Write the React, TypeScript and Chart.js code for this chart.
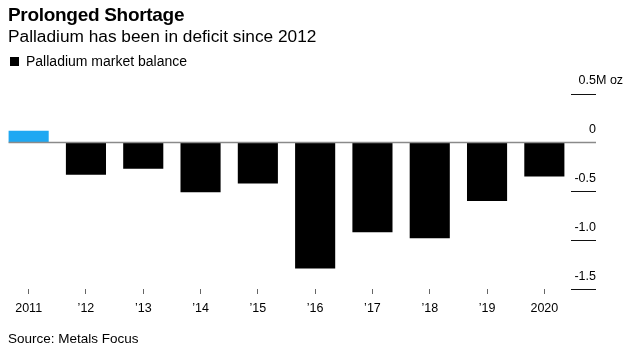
import React, { useEffect, useRef } from "react";
import { Chart, registerables } from "chart.js";

Chart.register(...registerables);

const categories = ["2011", "\u201912", "\u201913", "\u201914", "\u201915", "\u201916", "\u201917", "\u201918", "\u201919", "2020"];
const marketBalance = [0.12, -0.33, -0.27, -0.51, -0.42, -1.29, -0.92, -0.98, -0.6, -0.35];
const yTickValues = [0.5, 0, -0.5, -1.0, -1.5];
const yTickLabels = ["0.5", "0", "-0.5", "-1.0", "-1.5"];
const yUnit = "M oz";

const FONT = "'Liberation Sans', Arial, Helvetica, sans-serif";
const SURPLUS = "#1fa8f2";
const DEFICIT = "#000000";

const rightAxisPlugin = {
  id: "rightAxis",
  afterDatasetsDraw(chart: any) {
    const { ctx, chartArea, scales } = chart;
    const y = scales.y;
    const meta = chart.getDatasetMeta(0);
    const first = meta.data[0];
    const barLeft = first.x - first.width / 2;
    const tickStart = chartArea.right - 2;
    const tickEnd = chartArea.right + 23;
    ctx.save();
    ctx.font = `12.5px ${FONT}`;
    ctx.textBaseline = "alphabetic";
    yTickValues.forEach((v, i) => {
      const py = y.getPixelForValue(v);
      if (v !== 0) {
        ctx.strokeStyle = "#111";
        ctx.lineWidth = 1;
        ctx.beginPath();
        ctx.moveTo(tickStart, Math.round(py) + 0.5);
        ctx.lineTo(tickEnd, Math.round(py) + 0.5);
        ctx.stroke();
      }
      ctx.fillStyle = "#000";
      ctx.textAlign = "right";
      ctx.fillText(yTickLabels[i], tickEnd, py - 9.5);
      if (i === 0) {
        ctx.textAlign = "left";
        ctx.fillText(yUnit, tickEnd, py - 9.5);
      }
    });
    const y0 = y.getPixelForValue(0);
    ctx.strokeStyle = "#8a8a8a";
    ctx.lineWidth = 1.5;
    ctx.beginPath();
    ctx.moveTo(barLeft, y0);
    ctx.lineTo(tickEnd, y0);
    ctx.stroke();
    ctx.restore();
  },
};

export default function App() {
  const canvasRef = useRef<HTMLCanvasElement | null>(null);

  useEffect(() => {
    if (!canvasRef.current) return;
    const chart = new Chart(canvasRef.current, {
      type: "bar",
      data: {
        labels: categories,
        datasets: [
          {
            label: "Palladium market balance",
            data: marketBalance,
            backgroundColor: (c: any) => ((c.raw ?? 0) >= 0 ? SURPLUS : DEFICIT),
            borderWidth: 0,
            categoryPercentage: 1,
            barPercentage: 0.7,
          },
        ],
      },
      options: {
        animation: false,
        responsive: false,
        maintainAspectRatio: false,
        layout: { padding: { top: 93.5, left: 0, right: 68, bottom: 40 } },
        plugins: {
          legend: { display: false },
          tooltip: { enabled: false },
          title: { display: false },
        },
        scales: {
          x: {
            afterFit: (s: any) => {
              s.height = 30;
            },
            grid: {
              display: true,
              drawOnChartArea: false,
              drawTicks: true,
              tickLength: 5,
              color: "#666",
              offset: false,
            },
            border: { display: false },
            ticks: {
              color: "#000",
              font: { family: FONT, size: 12.5 },
              padding: 7,
              maxRotation: 0,
              autoSkip: false,
            },
          },
          y: { display: false, min: -1.5, max: 0.5 },
        },
      },
      plugins: [rightAxisPlugin],
    } as any);
    return () => chart.destroy();
  }, []);

  const base: React.CSSProperties = {
    position: "absolute",
    left: 8,
    margin: 0,
    whiteSpace: "nowrap",
    color: "#000",
    fontFamily: FONT,
  };

  return (
    <div style={{ position: "fixed", left: 0, top: 0, width: 641, height: 359, background: "#fff", overflow: "hidden" }}>
      <canvas ref={canvasRef} width={641} height={359} style={{ position: "absolute", left: 0, top: 0, width: 641, height: 359 }} />
      <div style={{ ...base, top: 5.2, fontSize: 19, lineHeight: "19px", fontWeight: 700, letterSpacing: -0.3 }}>Prolonged Shortage</div>
      <div style={{ ...base, top: 28, fontSize: 17.3, lineHeight: "17.3px" }}>Palladium has been in deficit since 2012</div>
      <div style={{ ...base, left: 9.5, top: 57.3, width: 9, height: 9, background: "#000" }} />
      <div style={{ ...base, left: 26, top: 54.1, fontSize: 14, lineHeight: "14px" }}>Palladium market balance</div>
      <div style={{ ...base, top: 331.6, fontSize: 13.5, lineHeight: "13.5px" }}>Source: Metals Focus</div>
    </div>
  );
}
